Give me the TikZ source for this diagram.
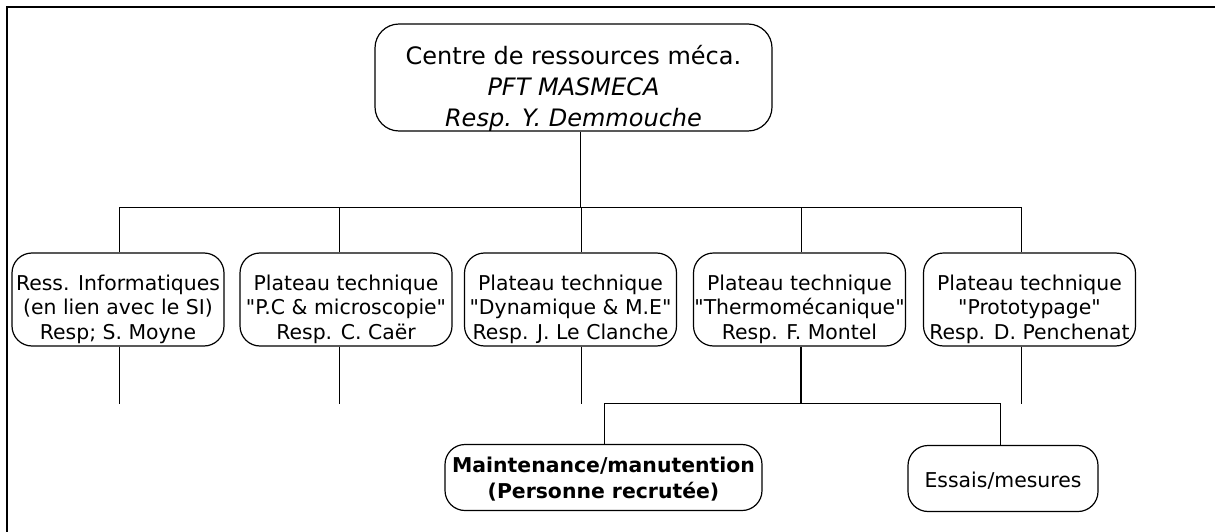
\documentclass[tikz,border=0pt]{standalone}
\usepackage{fontspec}
\setmainfont{DejaVu Sans}[Ligatures=TeXOff]
\begin{document}
\begin{tikzpicture}[x=1pt,y=-1pt,
  box/.style={draw, line width=1.2pt, rounded corners=20pt, inner sep=0pt, align=center},
  topbox/.style={box, rounded corners=24pt, minimum width=397pt, minimum height=101pt, font=\fontsize{24}{31}\selectfont},
  midbox/.style={box, minimum width=212pt, minimum height=93pt, font=\fontsize{20.4}{24.3}\selectfont},
  lowbox/.style={box, minimum height=66pt, font=\fontsize{20.4}{26}\selectfont},
  link/.style={line width=0.9pt},
  thicklink/.style={line width=1.8pt},
  frame/.style={line width=2.5pt}]
\useasboundingbox (0,0) rectangle (1215,532);
\coordinate (fa) at (1215,7);
\coordinate (fb) at (7,7);
\coordinate (fc) at (7,532);
\draw[frame] (fa) -- (fb) -- (fc);

\node[topbox] (top) at (573.5,77.5) {\rule{0pt}{40pt}Centre de ressources méca.\\\textit{PFT MASMECA}\\\textit{Resp. Y. Demmouche}};

\node[midbox] (n1) at (118,299.5) {\rule{0pt}{35pt}Ress. Informatiques\\(en lien avec le SI)\\Resp; S. Moyne};
\node[midbox] (n2) at (346,299.5) {\rule{0pt}{35pt}Plateau technique\\"P.C \& microscopie"\\Resp. C. Caër};
\node[midbox] (n3) at (570.5,299.5) {\rule{0pt}{35pt}Plateau technique\\"Dynamique \& M.E"\\Resp. J. Le Clanche};
\node[midbox] (n4) at (799.5,299.5) {\rule{0pt}{35pt}Plateau technique\\"Thermomécanique"\\Resp. F. Montel};
\node[midbox] (n5) at (1029.5,299.5) {\rule{0pt}{35pt}Plateau technique\\"Prototypage"\\Resp. D. Penchenat};

\node[lowbox, minimum width=317pt] (m) at (603.5,477.5) {\rule{0pt}{19pt}\textbf{Maintenance/manutention}\\\textbf{(Personne recrutée)}};
\node[lowbox, minimum width=190pt] (e) at (1003,478.5) {\rule{0pt}{19pt}Essais/mesures};

% upper tree
\coordinate (tj) at (580,207);
\coordinate (b1) at (119,207);
\coordinate (b2) at (339,207);
\coordinate (b3) at (581,207);
\coordinate (b4) at (801,207);
\coordinate (b5) at (1021,207);
\draw[link] (top.south -| tj) -- (tj);
\draw[link] (b1) -- (b5);
\draw[link] (b1) -- (b1 |- n1.north);
\draw[link] (b2) -- (b2 |- n2.north);
\draw[link] (b3) -- (b3 |- n3.north);
\draw[link] (b4) -- (b4 |- n4.north);
\draw[link] (b5) -- (b5 |- n5.north);

% stubs below
\coordinate (s1) at (119,404);
\coordinate (s2) at (339,404);
\coordinate (s3) at (581,404);
\coordinate (s5) at (1021,404);
\draw[link] (n1.south -| s1) -- (s1);
\draw[link] (n2.south -| s2) -- (s2);
\draw[link] (n3.south -| s3) -- (s3);
\draw[link] (n5.south -| s5) -- (s5);

% lower tree
\coordinate (l4) at (801,403);
\coordinate (lm) at (604,403);
\coordinate (le) at (1000,403);
\draw[thicklink] (n4.south -| l4) -- (l4);
\draw[link] (m.north -| lm) -- (lm) -- (le) -- (e.north -| le);
\end{tikzpicture}
\end{document}
